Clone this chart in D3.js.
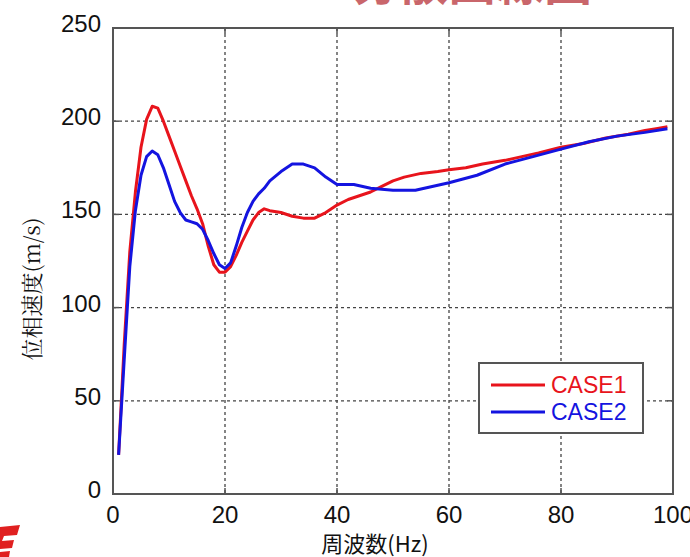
<!DOCTYPE html>
<head>
  <meta charset="utf-8">
  <script src="https://d3js.org/d3.v7.min.js"></script>
  <style>
    body { margin: 0; background: #fff; }
    svg { display: block; }
    .tick-label { font-family: 'Liberation Sans Narrow', 'Liberation Sans', Arial, sans-serif; font-size: 24px; fill: #111; }
    .grid line { stroke: #444; stroke-width: 1.3; stroke-dasharray: 3,3; }
    .line { fill: none; stroke-width: 3; stroke-linejoin: round; }
  </style>
</head>
<body>
<svg width="690" height="557"></svg>
<script>

// CASE1 (red) and CASE2 (blue): frequency (Hz) vs phase velocity (m/s)
var case1Freq = [1, 2, 3, 4, 5, 6, 7, 8, 9, 10, 11, 12, 13, 14, 15, 16, 17, 18, 19, 20,
  21, 22, 23, 24, 25, 26, 27, 28, 30, 32, 34, 36, 38, 40, 42, 44, 46, 48, 50, 52,
  55, 58, 60, 63, 66, 70, 73, 76, 80, 84, 88, 92, 95, 97, 99];
var case1Vel = [21, 80, 130, 162, 186, 201, 208, 207, 200, 192, 184, 176, 168, 160, 153, 145, 133, 123, 119, 119,
  122, 128, 135, 141, 147, 151, 153, 152, 151, 149, 148, 148, 151, 155, 158, 160, 162, 165, 168, 170,
  172, 173, 174, 175, 177, 179, 181, 183, 186, 188, 191, 193, 195, 196, 197];

var case2Freq = [1, 2, 3, 4, 5, 6, 7, 8, 9, 10, 11, 12, 13, 14, 15, 16, 17, 18, 19, 20,
  21, 22, 23, 24, 25, 26, 27, 28, 30, 32, 34, 36, 38, 40, 43, 46, 50, 54, 57, 60,
  65, 70, 75, 80, 85, 90, 95, 99];
var case2Vel = [21, 72, 122, 152, 171, 181, 184, 182, 175, 166, 157, 151, 147, 146, 145, 142, 136, 129, 123, 121,
  124, 133, 143, 151, 157, 161, 164, 168, 173, 177, 177, 175, 170, 166, 166, 164, 163, 163, 165, 167,
  171, 177, 181, 185, 189, 192, 194, 196];

var seriesNames = ["CASE1", "CASE2"];
var seriesColors = ["#e8141c", "#1414e0"];
var xTicks = [0, 20, 40, 60, 80, 100];
var yTicks = [0, 50, 100, 150, 200, 250];
var xTitle = "周波数(Hz)";
var yTitle = "位相速度(m/s)";

var margin = {top: 28, right: 17, bottom: 63, left: 113};
var width = 690 - margin.left - margin.right;
var height = 557 - margin.top - margin.bottom;

var svg = d3.select("svg");

// cut-off red heading at the very top of the slide
svg.append("text")
    .attr("x", 352).attr("y", 0)
    .style("font-family", "'Noto Sans CJK JP', sans-serif")
    .style("font-size", "48px").style("font-weight", "bold")
    .style("fill", "#b8333a").style("opacity", 0.75)
    .text("分散曲線図");

// red logo fragment bottom left
svg.append("path")
    .attr("d", "M0,527 L20,525 L17,535 L4,536 L2,541 L14,540 L12,548 L0,549 Z")
    .style("fill", "#e02020");
svg.append("path")
    .attr("d", "M0,552 L10,551 L9,557 L0,557 Z")
    .style("fill", "#e02020");

var g = svg.append("g")
    .attr("transform", "translate(" + margin.left + "," + margin.top + ")");

var x = d3.scaleLinear().domain([0, 100]).range([0, width]);
var y = d3.scaleLinear().domain([0, 250]).range([height, 0]);

// dashed grid
g.append("g").attr("class", "grid")
  .selectAll("line").data(xTicks.slice(1, -1)).enter().append("line")
    .attr("x1", function(d) { return x(d); }).attr("x2", function(d) { return x(d); })
    .attr("y1", 0).attr("y2", height);
g.append("g").attr("class", "grid")
  .selectAll("line").data(yTicks.slice(1, -1)).enter().append("line")
    .attr("y1", function(d) { return y(d); }).attr("y2", function(d) { return y(d); })
    .attr("x1", 0).attr("x2", width);

// inward ticks on all four sides
var tk = g.append("g").style("stroke", "#555").style("stroke-width", 1.5);
xTicks.slice(1, -1).forEach(function(t) {
  tk.append("line").attr("x1", x(t)).attr("x2", x(t)).attr("y1", 0).attr("y2", 6);
  tk.append("line").attr("x1", x(t)).attr("x2", x(t)).attr("y1", height).attr("y2", height - 6);
});
yTicks.slice(1, -1).forEach(function(t) {
  tk.append("line").attr("y1", y(t)).attr("y2", y(t)).attr("x1", 0).attr("x2", 6);
  tk.append("line").attr("y1", y(t)).attr("y2", y(t)).attr("x1", width).attr("x2", width - 6);
});

// tick labels
g.selectAll(".xl").data(xTicks).enter().append("text")
    .attr("class", "tick-label")
    .attr("x", function(d) { return x(d); })
    .attr("y", height + 29)
    .attr("text-anchor", "middle")
    .text(function(d) { return d; });
g.selectAll(".yl").data(yTicks).enter().append("text")
    .attr("class", "tick-label")
    .attr("x", -12)
    .attr("y", function(d) { return y(d) + 4; })
    .attr("text-anchor", "end")
    .text(function(d) { return d; });

// axis titles
g.append("text")
    .attr("x", width / 2 - 18).attr("y", height + 58)
    .attr("text-anchor", "middle")
    .style("font-family", "'Noto Sans CJK JP', sans-serif")
    .style("font-size", "22px").style("fill", "#111")
    .text(xTitle);
g.append("text")
    .attr("transform", "translate(-73," + (height / 2 + 28) + ") rotate(-90)")
    .attr("text-anchor", "middle")
    .style("font-family", "'Noto Serif CJK JP', 'Noto Sans CJK JP', serif")
    .style("font-size", "22px").style("fill", "#111")
    .text(yTitle);

// curves
var line = d3.line()
    .x(function(d) { return x(d[0]); })
    .y(function(d) { return y(d[1]); });

var case1 = case1Freq.map(function(f, i) { return [f, case1Vel[i]]; });
var case2 = case2Freq.map(function(f, i) { return [f, case2Vel[i]]; });

g.append("path").attr("class", "line")
    .attr("d", line(case1)).style("stroke", seriesColors[0]);
g.append("path").attr("class", "line")
    .attr("d", line(case2)).style("stroke", seriesColors[1]);

// frame
g.append("rect")
    .attr("width", width).attr("height", height)
    .style("fill", "none").style("stroke", "#555").style("stroke-width", 2);

// legend
var lg = g.append("g").attr("transform", "translate(" + (479 - margin.left) + "," + (363 - margin.top) + ")");
lg.append("rect")
    .attr("width", 164).attr("height", 70)
    .style("fill", "#fff").style("stroke", "#555").style("stroke-width", 2);
seriesNames.forEach(function(name, i) {
  lg.append("line")
      .attr("x1", 12).attr("x2", 66)
      .attr("y1", 22 + i * 27).attr("y2", 22 + i * 27)
      .style("stroke", seriesColors[i]).style("stroke-width", 3);
  lg.append("text")
      .attr("x", 72).attr("y", 30 + i * 27)
      .style("font-family", "'Liberation Sans', Arial, sans-serif")
      .style("font-size", "23px")
      .style("fill", seriesColors[i])
      .text(name);
});

</script>
</body>
